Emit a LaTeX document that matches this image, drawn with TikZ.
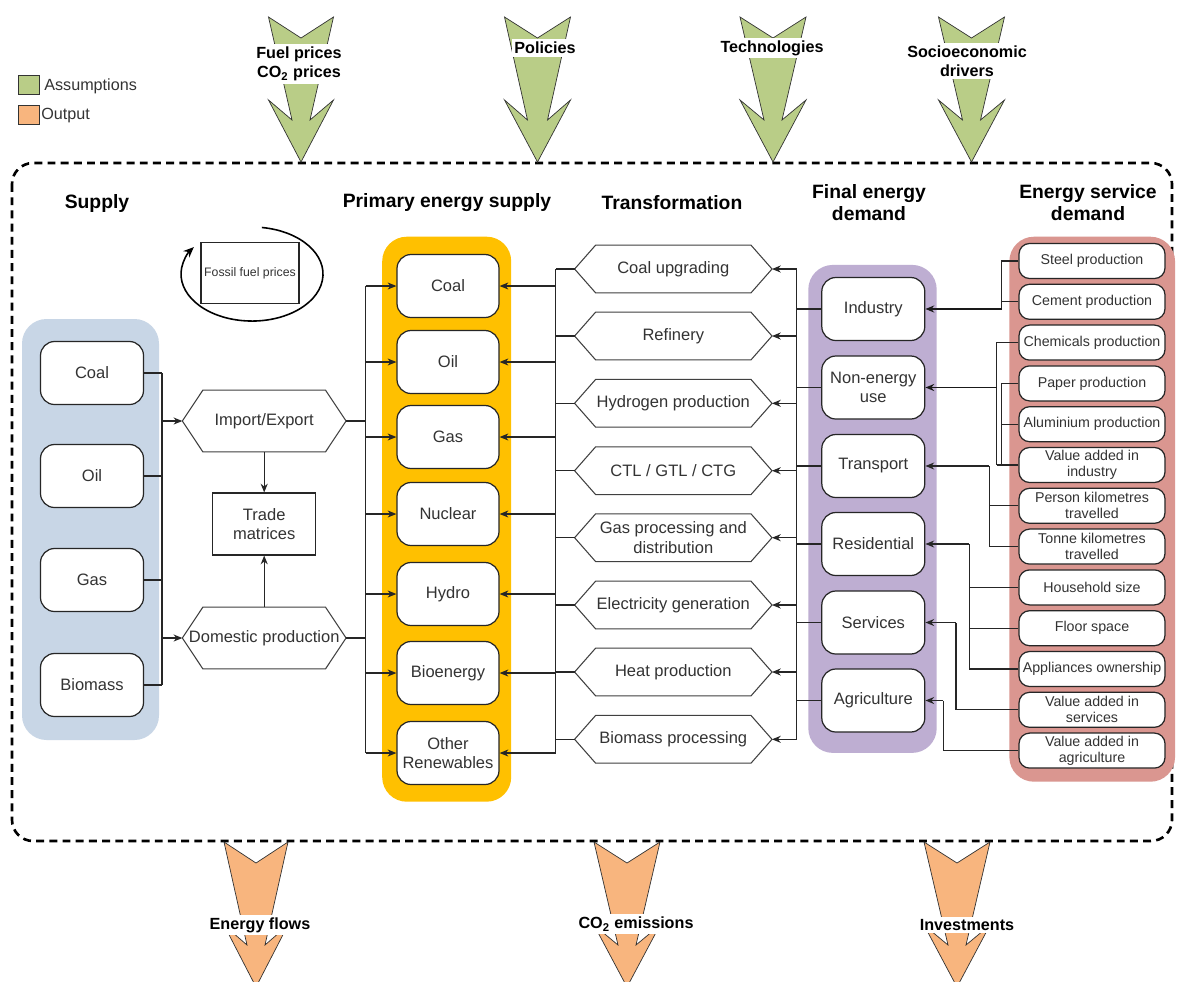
\documentclass[tikz,border=0pt]{standalone}
\usepackage{fontspec}
\setmainfont{Liberation Sans}
\usetikzlibrary{arrows.meta,calc}
\newdimen\pxu \pxu=0.02cm
\definecolor{assum}{RGB}{185,205,135}
\definecolor{outp}{RGB}{248,181,126}
\definecolor{supblue}{RGB}{200,214,230}
\definecolor{pesyel}{RGB}{255,192,0}
\definecolor{fedpur}{RGB}{190,174,210}
\definecolor{esdred}{RGB}{218,150,144}
\definecolor{txt}{RGB}{51,51,51}
\newcommand\hexdraw[2]{\draw[hexline] (#1.west) -- ($(#1.north west)+(#2,0)$) -- ($(#1.north east)+(-#2,0)$) -- (#1.east) -- ($(#1.south east)+(-#2,0)$) -- ($(#1.south west)+(#2,0)$) -- cycle;}
\newcommand\bigarrow[5]{\filldraw[fill=#5, draw=black!80, line width=0.4pt] (#1-#3,#2) -- (#1,#2+21) -- (#1+#3,#2) -- (#1+#4,#2+103) -- (#1+#3,#2+83) -- (#1,#2+145) -- (#1-#3,#2+83) -- (#1-#4,#2+103) -- cycle;}
\tikzset{
 panel/.style={draw=none, rounded corners=14pt, inner sep=0pt},
 rbox/.style={draw=black!85, fill=white, line width=0.7pt, rounded corners=8pt, minimum width=103\pxu, minimum height=63\pxu, inner sep=1pt, align=center, font=\fontsize{9.4}{11.2}\selectfont, text=txt},
 pbox/.style={rbox, minimum width=102\pxu},
 ebox/.style={draw=black!85, fill=white, line width=0.7pt, rounded corners=6pt, minimum width=146\pxu, minimum height=35\pxu, inner sep=0pt, align=center, font=\fontsize{8.1}{9}\selectfont, text=txt},
 hexn/.style={minimum width=196.7\pxu, minimum height=47\pxu, inner sep=0pt, align=center, font=\fontsize{9.4}{11.2}\selectfont, text=txt},
 hexline/.style={draw=black!75, line width=0.6pt},
 conn/.style={draw=black!85, line width=0.6pt},
 arr/.style={conn, -{Stealth[length=5pt,width=4pt]}},
 thickarr/.style={draw=black!90, line width=1.1pt, -{Stealth[length=5pt,width=4pt]}},
 head/.style={font=\bfseries\fontsize{11}{12.5}\selectfont, align=center, text=black},
 biglab/.style={font=\bfseries\fontsize{9.2}{10.8}\selectfont, fill=white, inner sep=1.5pt, align=center, text=black},
 legtext/.style={anchor=west, font=\fontsize{9.2}{11}\selectfont, inner sep=0pt, text=txt},
}
\begin{document}
\begin{tikzpicture}[x=\pxu,y=-\pxu]
\clip (0,0) rectangle (1180,981);
\fill[white] (0,0) rectangle (1180,981);

% legend
\node[draw=black!80, fill=assum, minimum width=21\pxu, minimum height=19\pxu, inner sep=0pt] (lgA) at (29,85) {};
\node[legtext] (lgAt) at (44,86) {Assumptions};
\node[draw=black!80, fill=outp, minimum width=21\pxu, minimum height=19\pxu, inner sep=0pt] (lgO) at (29,115) {};
\node[legtext] (lgOt) at (41,116) {Output};

% dashed frame
\draw[black, line width=1.5pt, dash pattern=on 4.5pt off 3pt, rounded corners=12pt] (12,163) rectangle (1172,841);

% big arrows
\bigarrow{301}{17}{32.5}{9}{assum}
\bigarrow{537.5}{17}{33}{10}{assum}
\bigarrow{773}{17}{33}{9}{assum}
\bigarrow{971.5}{17}{33}{9}{assum}
\node[biglab] (lfuel) at (299,64) {Fuel prices\\CO\textsubscript{2} prices};
\node[biglab] (lpol) at (545,48) {Policies};
\node[biglab] (ltech) at (772,48) {Technologies};
\node[biglab] (lsoc) at (967,61) {Socioeconomic\\drivers};
\bigarrow{256}{842}{32}{9}{outp}
\bigarrow{627}{842}{33}{9}{outp}
\bigarrow{957}{842}{33}{9}{outp}
\node[biglab] (lflow) at (260,925) {Energy flows};
\node[biglab] (lco2) at (636,924) {CO\textsubscript{2} emissions};
\node[biglab] (linv) at (967,925) {Investments};

% headings
\node[head] (hsup) at (97,203) {Supply};
\node[head] (hpes) at (447,203) {Primary energy supply};
\node[head] (htra) at (672,203) {Transformation};
\node[head] (hfed) at (869,203) {Final energy\\demand};
\node[head] (hesd) at (1088,203) {Energy service\\demand};

% panels
\node[panel, fill=supblue, minimum width=137\pxu, minimum height=421\pxu] (supp) at (90.5,529.5) {};
\node[panel, fill=pesyel, minimum width=129\pxu, minimum height=565\pxu] (pesp) at (446.7,519.2) {};
\node[panel, fill=fedpur, minimum width=128.4\pxu, minimum height=488\pxu] (fedp) at (872.5,508.9) {};
\node[panel, fill=esdred, minimum width=165.7\pxu, minimum height=545\pxu] (esdp) at (1092.2,509.2) {};

% fossil fuel prices
\node[draw=black!85, line width=0.6pt, minimum width=98\pxu, minimum height=61\pxu, inner sep=0pt, font=\fontsize{7}{8}\selectfont, text=txt] (fossil) at (250,273) {Fossil fuel prices};
\draw[black, line width=0.9pt, -{Stealth[length=6pt,width=5pt]}] ($(fossil)+(11.9,-45.5)$) arc[start angle=82, end angle=-215, x radius=71\pxu, y radius=47\pxu];

% supply
\node[rbox] (s1) at (92,373) {Coal};
\node[rbox] (s2) at (92,476) {Oil};
\node[rbox] (s3) at (92,580) {Gas};
\node[rbox] (s4) at (92,685) {Biomass};

% trade
\node[hexn, minimum width=163\pxu, minimum height=61\pxu] (imp) at (264.2,421) {Import/Export};
\hexdraw{imp}{20.5}
\node[hexn, minimum width=163\pxu, minimum height=61\pxu] (dom) at (264.2,638) {Domestic production};
\hexdraw{dom}{20.5}
\node[draw=black!85, line width=0.6pt, fill=white, minimum width=103\pxu, minimum height=62\pxu, inner sep=0pt, align=center, font=\fontsize{9.4}{10.8}\selectfont, text=txt] (trade) at (264.2,524) {Trade\\matrices};

% primary energy supply
\node[pbox] (p1) at (448,286) {Coal};
\node[pbox] (p2) at (448,362) {Oil};
\node[pbox] (p3) at (448,437) {Gas};
\node[pbox] (p4) at (448,514) {Nuclear};
\node[pbox] (p5) at (448,594) {Hydro};
\node[pbox] (p6) at (448,673) {Bioenergy};
\node[pbox] (p7) at (448,753) {Other\\Renewables};

% transformation
\foreach \n/\yy/\t in {t1/269/{Coal upgrading}, t2/336/{Refinery}, t3/403.3/{Hydrogen production}, t4/470.7/{CTL / GTL / CTG}, t5/537.7/{Gas processing and\\distribution}, t6/605/{Electricity generation}, t7/672/{Heat production}, t8/739.3/{Biomass processing}}{
  \node[hexn] (\n) at (673.3,\yy) {\t};
  \hexdraw{\n}{21}
}

% final energy demand
\node[rbox] (f1) at (873.3,309) {Industry};
\node[rbox] (f2) at (873.3,387.5) {Non-energy\\use};
\node[rbox] (f3) at (873.3,466) {Transport};
\node[rbox] (f4) at (873.3,544) {Residential};
\node[rbox] (f5) at (873.3,622.5) {Services};
\node[rbox] (f6) at (873.3,700.5) {Agriculture};

% energy service demand
\foreach \n/\t [count=\i from 0] in {e1/Steel production, e2/Cement production, e3/Chemicals production, e4/Paper production, e5/Aluminium production, e6/Value added in\\industry, e7/Person kilometres\\travelled, e8/Tonne kilometres\\travelled, e9/Household size, e10/Floor space, e11/Appliances ownership, e12/Value added in\\services, e13/Value added in\\agriculture}{
  \node[ebox] (\n) at (1092,{261+40.8*\i}) {\t};
}

% bus coordinates
\coordinate (sbus) at (162,0);
\coordinate (lbus) at (365.7,0);
\coordinate (rbus) at (555.7,0);
\coordinate (fbus) at (796.7,0);
\coordinate (b1) at (1001.7,0);
\coordinate (b2) at (996.7,0);
\coordinate (b3) at (1001.7,0);
\coordinate (b4) at (989.3,0);
\coordinate (b5) at (969.3,0);
\coordinate (b6) at (956,0);
\coordinate (b7) at (943.3,0);

% supply connectors
\foreach \n in {s1,s2,s3,s4}{\draw[conn] (\n.east) -- (\n.east -| sbus);}
\draw[conn] (s1.east -| sbus) -- (s4.east -| sbus);
\draw[arr] (imp.west -| sbus) -- (imp.west);
\draw[arr] (dom.west -| sbus) -- (dom.west);
\draw[arr] (imp.south) -- (trade.north);
\draw[arr] (dom.north) -- (trade.south);

% to primary energy supply
\draw[conn] (imp.east) -- (imp.east -| lbus);
\draw[conn] (dom.east) -- (dom.east -| lbus);
\draw[conn] (p1.west -| lbus) -- (p7.west -| lbus);
\foreach \n in {p1,p2,p3,p4,p5,p6,p7}{\draw[arr] (\n.west -| lbus) -- (\n.west);}

% transformation to primary
\draw[conn] (t1.west -| rbus) -- (p7.east -| rbus);
\foreach \n in {p1,p2,p3,p4,p5,p6,p7}{\draw[arr] (\n.east -| rbus) -- (\n.east);}
\foreach \n in {t1,t2,t3,t4,t5,t6,t7,t8}{\draw[conn] (\n.west) -- (\n.west -| rbus);}

% final demand to transformation
\draw[conn] (t1.east -| fbus) -- (t8.east -| fbus);
\foreach \n in {t1,t2,t3,t4,t5,t6,t7,t8}{\draw[arr] (\n.east -| fbus) -- (\n.east);}
\foreach \n in {f1,f2,f3,f4,f5,f6}{\draw[conn] (\n.west) -- (\n.west -| fbus);}

% energy service demand to final demand
\draw[conn] (e1.west) -- (e1.west -| b1) -- (f1.east -| b1);
\draw[conn] (e2.west) -- (e2.west -| b1);
\draw[thickarr] (f1.east -| b1) -- (f1.east);
\draw[conn] (e3.west) -- (e3.west -| b2) -- (e6.west -| b2);
\draw[conn] (e6.west) -- (e6.west -| b2);
\draw[conn] (e4.west) -- (e4.west -| b3) -- (e6.west -| b3);
\draw[conn] (e5.west) -- (e5.west -| b3);
\draw[thickarr] (f2.east -| b2) -- (f2.east);
\draw[conn] (e7.west) -- (e7.west -| b4);
\draw[conn] (e8.west) -- (e8.west -| b4) -- (f3.east -| b4);
\draw[arr] (f3.east -| b4) -- (f3.east);
\draw[conn] (e9.west) -- (e9.west -| b5);
\draw[conn] (e10.west) -- (e10.west -| b5);
\draw[conn] (e11.west) -- (e11.west -| b5) -- (f4.east -| b5);
\draw[arr] (f4.east -| b5) -- (f4.east);
\draw[conn] (e12.west) -- (e12.west -| b6) -- (f5.east -| b6);
\draw[arr] (f5.east -| b6) -- (f5.east);
\draw[conn] (e13.west) -- (e13.west -| b7) -- (f6.east -| b7);
\draw[arr] (f6.east -| b7) -- (f6.east);
\end{tikzpicture}
\end{document}
